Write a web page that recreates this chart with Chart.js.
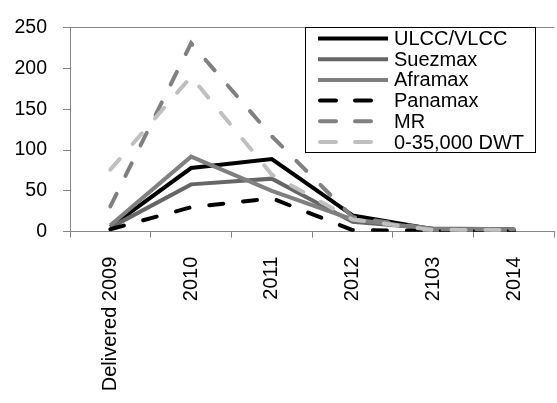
<!DOCTYPE html>
<html>
<head>
<meta charset="utf-8">
<title>Tanker deliveries</title>
<script src="https://cdn.jsdelivr.net/npm/chart.js@4.4.1/dist/chart.umd.min.js"></script>
<style>
  html, body { margin: 0; padding: 0; background: #fff; }
  #wrap { width: 557px; height: 403px; }
</style>
</head>
<body>
<div id="wrap"><canvas id="c" width="557" height="403"></canvas></div>
<script>
// Categories along the x axis
const categories = ['Delivered 2009', '2010', '2011', '2012', '2103', '2014'];

// Deliveries per vessel class
const ulccVlcc  = [6, 78, 89, 20, 3, 3];
const suezmax   = [5, 58, 65, 12, 4, 3];
const aframax   = [8, 92, 50, 15, 3, 3];
const panamax   = [3, 30, 41, 2, 1, 1];
const mr        = [31, 231, 117, 18, 3, 3];
const smallDwt  = [76, 190, 70, 15, 2, 2];

// Value axis ticks
const yTicks = [0, 50, 100, 150, 200, 250];

const FONT = 'Liberation Sans, Arial, sans-serif';
const AXIS_GREY = '#868686';

function series(label, data, color, dashed, order) {
  return {
    label, data,
    borderColor: color,
    backgroundColor: color,
    borderWidth: 4,
    borderDash: dashed ? [14, 20] : [],
    borderCapStyle: dashed ? 'round' : 'butt',
    borderJoinStyle: 'miter',
    pointRadius: 0,
    pointHoverRadius: 0,
    tension: 0,
    fill: false,
    order,
    legendDashed: dashed
  };
}

// Boxed legend drawn inside the plot, upper right
const boxLegend = {
  id: 'boxLegend',
  afterDraw(chart, args, opts) {
    const ctx = chart.ctx;
    ctx.save();
    ctx.fillStyle = '#fff';
    ctx.fillRect(opts.x, opts.y, opts.w, opts.h);
    ctx.strokeStyle = '#000';
    ctx.lineWidth = 1;
    ctx.strokeRect(opts.x + 0.5, opts.y + 0.5, opts.w - 1, opts.h - 1);
    chart.data.datasets.forEach((ds, i) => {
      const cy = opts.firstRow + i * opts.rowGap;
      ctx.beginPath();
      ctx.strokeStyle = ds.borderColor;
      ctx.lineWidth = 4;
      if (ds.legendDashed) {
        ctx.setLineDash([16, 19]);
        ctx.lineCap = 'round';
        ctx.moveTo(opts.sampleX0 + 2, cy);
        ctx.lineTo(opts.sampleX1, cy);
      } else {
        ctx.setLineDash([]);
        ctx.lineCap = 'butt';
        ctx.moveTo(opts.sampleX0, cy);
        ctx.lineTo(opts.sampleX1, cy);
      }
      ctx.stroke();
      ctx.setLineDash([]);
      ctx.fillStyle = '#000';
      ctx.font = '20px ' + FONT;
      ctx.textBaseline = 'middle';
      ctx.textAlign = 'left';
      ctx.fillText(ds.label, opts.textX, cy + 1);
    });
    ctx.restore();
  }
};

new Chart(document.getElementById('c'), {
  type: 'line',
  data: {
    labels: categories,
    datasets: [
      series('ULCC/VLCC', ulccVlcc, '#000000', false, 6),
      series('Suezmax', suezmax, '#666666', false, 5),
      series('Aframax', aframax, '#808080', false, 4),
      series('Panamax', panamax, '#000000', true, 3),
      series('MR', mr, '#808080', true, 2),
      series('0-35,000 DWT', smallDwt, '#c0c0c0', true, 1)
    ]
  },
  plugins: [boxLegend],
  options: {
    responsive: false,
    devicePixelRatio: 1,
    animation: false,
    layout: { padding: { top: 17, right: 0, left: 0, bottom: 0 } },
    plugins: {
      legend: { display: false },
      tooltip: { enabled: false },
      boxLegend: {
        x: 305, y: 27, w: 231, h: 126,
        firstRow: 38.5, rowGap: 20.7,
        sampleX0: 318, sampleX1: 388, textX: 394
      }
    },
    scales: {
      x: {
        type: 'category',
        offset: true,
        grid: {
          offset: true,
          drawOnChartArea: false,
          color: AXIS_GREY,
          tickColor: AXIS_GREY,
          tickLength: 6
        },
        border: { color: AXIS_GREY, width: 1 },
        ticks: {
          autoSkip: false,
          minRotation: 90,
          maxRotation: 90,
          padding: 19,
          color: '#000',
          font: { family: FONT, size: 20 }
        },
        afterFit(scale) { scale.height = 171.3; }
      },
      y: {
        min: 0,
        max: 250,
        afterBuildTicks(scale) { scale.ticks = yTicks.map(v => ({ value: v })); },
        grid: {
          color: ctx => (ctx.tick && ctx.tick.value === 250) ? AXIS_GREY : 'rgba(0,0,0,0)',
          tickColor: AXIS_GREY,
          tickLength: 7,
          lineWidth: 1
        },
        border: { color: AXIS_GREY, width: 1 },
        ticks: {
          padding: 16,
          color: '#000',
          font: { family: FONT, size: 19.5 }
        },
        afterFit(scale) { scale.width = 70; }
      }
    }
  }
});
</script>
</body>
</html>
